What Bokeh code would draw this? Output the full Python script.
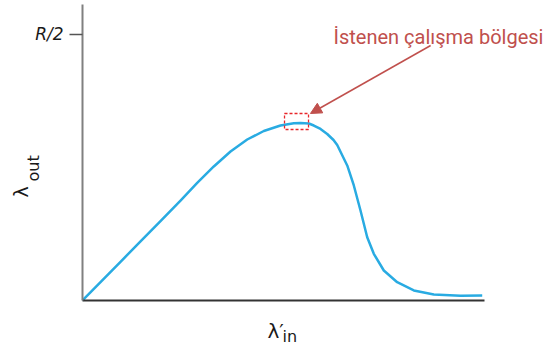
import math
from bokeh.plotting import figure
from bokeh.models import Range1d, FixedTicker, Label, Arrow, NormalHead, LinearAxis
from bokeh.embed import file_html
from bokeh.resources import INLINE

# Curve (x: 0..100 along the input axis, y in units of R)
lam_in = [0, 4.48, 9.45, 14.43, 19.40, 24.38, 28.53, 32.66, 36.82, 40.97, 45.10,
          49.25, 52.56, 54.23, 56.29, 57.54, 59.20, 60.87, 62.44, 63.36, 65.85, 67.49,
          69.15, 70.82, 72.46, 74.95, 78.28, 82.41, 87.39, 94.03, 99.43]
lam_out = [0, 0.0344, 0.0727, 0.1111, 0.1494, 0.1878, 0.2209, 0.2519, 0.2801, 0.3026,
           0.3186, 0.3289, 0.3331, 0.3335, 0.3327, 0.3289, 0.3224, 0.3130, 0.3017,
           0.2923, 0.2538, 0.2162, 0.1692, 0.1190, 0.0878, 0.0564, 0.0344, 0.0188,
           0.0113, 0.0088, 0.0094]

y_ticks = [0.5]
y_tick_labels = ["R/2"]

region_left, region_right = [50.25], [56.22]
region_bottom, region_top = [0.3214], [0.3515]

note_text = "İstenen çalışma bölgesi"
note_pos = (62.44, 0.4962)
arrow_start = (86.6, 0.4793)
arrow_end = (56.7, 0.3515)

p = figure(width=553, height=345, output_backend="svg", toolbar_location=None,
           x_range=Range1d(-20.40, 117.16), y_range=Range1d(-0.0846, 0.5639),
           x_axis_location=None, y_axis_location=None,
           min_border_left=0, min_border_right=0, min_border_top=0,
           min_border_bottom=0)
p.outline_line_color = None
p.grid.visible = False
p.background_fill_color = "white"
p.border_fill_color = "white"

# axes
yaxis = LinearAxis(fixed_location=0, bounds=(0, 0.5564),
                   ticker=FixedTicker(ticks=y_ticks),
                   major_label_overrides={t: l for t, l in zip(y_ticks, y_tick_labels)},
                   major_label_text_font="DejaVu Sans",
                   major_label_text_font_style="italic",
                   major_label_text_font_size="17px",
                   major_label_text_color="#1a1a1a",
                   major_label_standoff=6,
                   major_tick_out=13, major_tick_in=0,
                   major_tick_line_color="#555555", major_tick_line_width=1.5,
                   minor_tick_line_color=None,
                   axis_line_color="#808080", axis_line_width=2)
p.add_layout(yaxis, "left")

xaxis = LinearAxis(fixed_location=0, bounds=(0, 100),
                   ticker=FixedTicker(ticks=[]),
                   major_tick_line_color=None, minor_tick_line_color=None,
                   major_label_text_font_size="0px",
                   axis_line_color="#333333", axis_line_width=2)
p.add_layout(xaxis, "below")

# curve
p.line(lam_in, lam_out, line_color="#29abe2", line_width=2.5, line_join="round")

# desired operating region
p.quad(left=region_left, right=region_right, bottom=region_bottom, top=region_top,
       fill_color=None, line_color="#e8262a", line_dash="3 2", line_width=1.3)

p.add_layout(Arrow(end=NormalHead(size=11, fill_color="#c0504d", line_color="#c0504d"),
                   x_start=arrow_start[0], y_start=arrow_start[1],
                   x_end=arrow_end[0], y_end=arrow_end[1],
                   line_color="#c0504d", line_width=1.5))

p.add_layout(Label(x=note_pos[0], y=note_pos[1], text=note_text,
                   text_font="Roboto", text_font_size="20px", text_color="#c0504d",
                   text_baseline="alphabetic", text_align="left"))

# axis titles
p.add_layout(Label(x=20, y=148, x_units="screen", y_units="screen", text="λ",
                   angle=math.pi / 2, text_font="DejaVu Sans", text_font_size="19px",
                   text_color="#1a1a1a", text_baseline="alphabetic"))
p.add_layout(Label(x=33, y=164, x_units="screen", y_units="screen", text="out",
                   angle=math.pi / 2, text_font="DejaVu Sans", text_font_size="16px",
                   text_color="#1a1a1a", text_baseline="alphabetic"))
p.add_layout(Label(x=267, y=15, x_units="screen", y_units="screen", text="λ′",
                   text_font="DejaVu Sans", text_font_size="20px",
                   text_color="#1a1a1a", text_baseline="alphabetic"))
p.add_layout(Label(x=282, y=9, x_units="screen", y_units="screen", text="in",
                   text_font="DejaVu Sans", text_font_size="16px",
                   text_color="#1a1a1a", text_baseline="alphabetic"))

open("out.html", "w").write(file_html(p, INLINE))
